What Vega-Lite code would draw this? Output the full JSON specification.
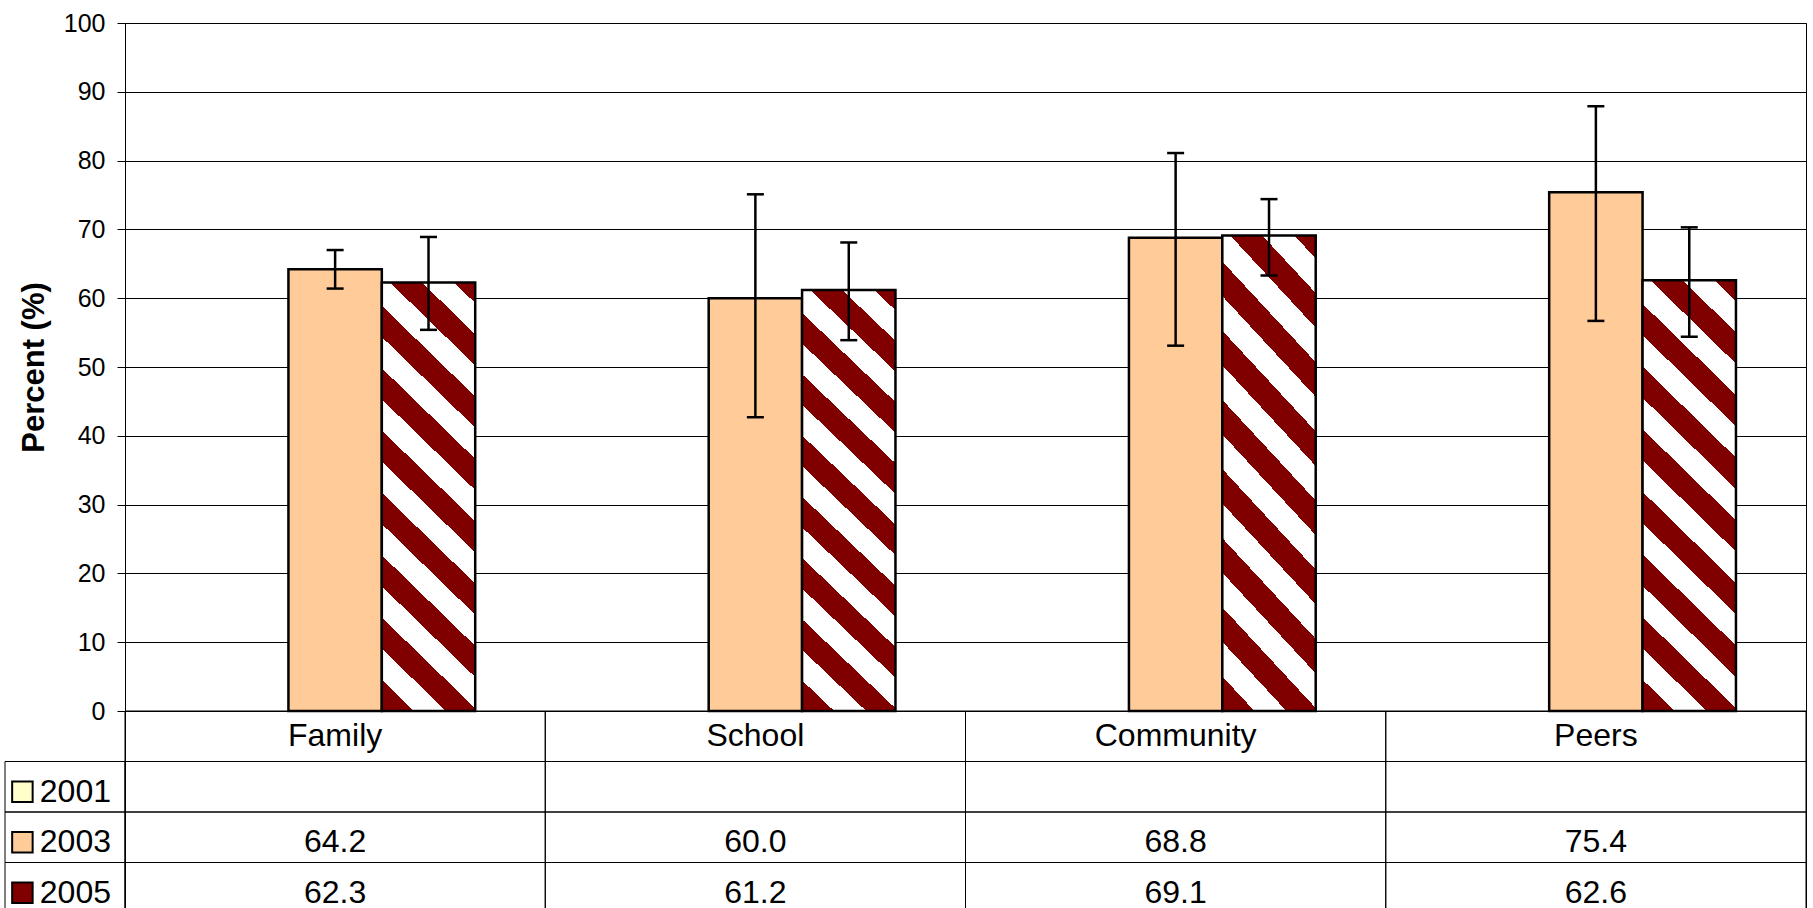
{
  "$schema": "https://vega.github.io/schema/vega-lite/v6.json",
  "width": 1681,
  "height": 890,
  "autosize": {"type": "none"},
  "padding": {"left": 125, "top": 23, "right": 7, "bottom": 0},
  "background": "white",
  "config": {"view": {"stroke": "black", "strokeWidth": 1}, "font": "Liberation Sans"},
  "data": {
    "values": [
      {"category": "Family", "year": "2001", "value": null, "lo": null, "hi": null},
      {"category": "Family", "year": "2003", "value": 64.2, "lo": 61.4, "hi": 67.0},
      {"category": "Family", "year": "2005", "value": 62.3, "lo": 55.4, "hi": 68.9},
      {"category": "School", "year": "2001", "value": null, "lo": null, "hi": null},
      {"category": "School", "year": "2003", "value": 60.0, "lo": 42.7, "hi": 75.1},
      {"category": "School", "year": "2005", "value": 61.2, "lo": 53.9, "hi": 68.1},
      {"category": "Community", "year": "2001", "value": null, "lo": null, "hi": null},
      {"category": "Community", "year": "2003", "value": 68.8, "lo": 53.1, "hi": 81.1},
      {"category": "Community", "year": "2005", "value": 69.1, "lo": 63.3, "hi": 74.4},
      {"category": "Peers", "year": "2001", "value": null, "lo": null, "hi": null},
      {"category": "Peers", "year": "2003", "value": 75.4, "lo": 56.7, "hi": 87.9},
      {"category": "Peers", "year": "2005", "value": 62.6, "lo": 54.4, "hi": 70.3}
    ]
  },
  "layer": [
    {
      "encoding": {
        "x": {"field": "category", "type": "nominal", "sort": null,
              "scale": {"domain": ["Family", "School", "Community", "Peers"], "paddingInner": 0, "paddingOuter": 0},
              "axis": null},
        "xOffset": {"field": "year", "type": "nominal",
                    "scale": {"domain": ["2001", "2003", "2005"], "paddingInner": 0, "paddingOuter": 0.75}}
      },
      "layer": [
        {
          "transform": [{"filter": "datum.year == '2003' && datum.value != null"}],
          "mark": {"type": "bar", "fill": "#FFCC99", "stroke": "black", "strokeWidth": 2.5},
          "encoding": {
            "y": {"field": "value", "type": "quantitative",
                  "scale": {"domain": [0, 100], "range": [688, 0], "nice": false},
                  "axis": {"values": [0, 10, 20, 30, 40, 50, 60, 70, 80, 90, 100],
                           "grid": true, "gridColor": "black", "gridOpacity": 1, "gridWidth": 1,
                           "domainColor": "black", "domainWidth": 1,
                           "tickColor": "black", "tickSize": 8, "tickWidth": 1,
                           "labelFont": "Liberation Sans", "labelFontSize": 25, "labelColor": "black",
                           "labelPadding": 12, "labelFlush": false, "labelOverlap": false,
                           "title": "Percent (%)", "titleFont": "Liberation Sans", "titleFontSize": 31,
                           "titleFontWeight": "bold", "titleColor": "black", "titlePadding": 13}}
          }
        },
        {
          "transform": [{"filter": "datum.year == '2005' && datum.value != null"}],
          "mark": {"type": "bar", "stroke": "black", "strokeWidth": 2.5,
                   "fill": {"gradient": "linear", "x1": 0, "y1": 1, "x2": 0.2457, "y2": -0.16,
                            "stops": [
                              {"offset": 0, "color": "#800000"}, {"offset": 0.06, "color": "#800000"},
                              {"offset": 0.06, "color": "#FFFFFF"}, {"offset": 0.12, "color": "#FFFFFF"},
                              {"offset": 0.12, "color": "#800000"}, {"offset": 0.18, "color": "#800000"},
                              {"offset": 0.18, "color": "#FFFFFF"}, {"offset": 0.24, "color": "#FFFFFF"},
                              {"offset": 0.24, "color": "#800000"}, {"offset": 0.30, "color": "#800000"},
                              {"offset": 0.30, "color": "#FFFFFF"}, {"offset": 0.36, "color": "#FFFFFF"},
                              {"offset": 0.36, "color": "#800000"}, {"offset": 0.42, "color": "#800000"},
                              {"offset": 0.42, "color": "#FFFFFF"}, {"offset": 0.48, "color": "#FFFFFF"},
                              {"offset": 0.48, "color": "#800000"}, {"offset": 0.54, "color": "#800000"},
                              {"offset": 0.54, "color": "#FFFFFF"}, {"offset": 0.60, "color": "#FFFFFF"},
                              {"offset": 0.60, "color": "#800000"}, {"offset": 0.66, "color": "#800000"},
                              {"offset": 0.66, "color": "#FFFFFF"}, {"offset": 0.72, "color": "#FFFFFF"},
                              {"offset": 0.72, "color": "#800000"}, {"offset": 0.78, "color": "#800000"},
                              {"offset": 0.78, "color": "#FFFFFF"}, {"offset": 0.84, "color": "#FFFFFF"},
                              {"offset": 0.84, "color": "#800000"}, {"offset": 0.90, "color": "#800000"},
                              {"offset": 0.90, "color": "#FFFFFF"}, {"offset": 0.96, "color": "#FFFFFF"},
                              {"offset": 0.96, "color": "#800000"}, {"offset": 1, "color": "#800000"}
                            ]}},
          "encoding": {"y": {"field": "value", "type": "quantitative"}}
        },
        {
          "transform": [{"filter": "datum.value != null"}],
          "mark": {"type": "rule", "stroke": "black", "strokeWidth": 2.5},
          "encoding": {"y": {"field": "lo", "type": "quantitative"}, "y2": {"field": "hi"}}
        },
        {
          "transform": [{"filter": "datum.value != null"}],
          "mark": {"type": "tick", "orient": "horizontal", "size": 17, "thickness": 2.5, "color": "black", "opacity": 1},
          "encoding": {"y": {"field": "lo", "type": "quantitative"}}
        },
        {
          "transform": [{"filter": "datum.value != null"}],
          "mark": {"type": "tick", "orient": "horizontal", "size": 17, "thickness": 2.5, "color": "black", "opacity": 1},
          "encoding": {"y": {"field": "hi", "type": "quantitative"}}
        }
      ]
    },
    {
      "encoding": {
        "x": {"field": "category", "type": "nominal", "sort": null,
              "scale": {"domain": ["Family", "School", "Community", "Peers"], "paddingInner": 0, "paddingOuter": 0},
              "axis": null}
      },
      "layer": [
        {
          "mark": {"type": "rect", "fill": "white", "fillOpacity": 0, "stroke": "black", "strokeWidth": 1},
          "encoding": {
            "y": {"field": "year", "type": "nominal",
                  "scale": {"domain": ["cat", "2001", "2003", "2005"], "range": [688, 890], "paddingInner": 0, "paddingOuter": 0},
                  "axis": null}
          }
        },
        {
          "transform": [{"filter": "datum.year == '2003'"}],
          "mark": {"type": "rect", "fill": "white", "fillOpacity": 0, "stroke": "black", "strokeWidth": 1},
          "encoding": {"y": {"datum": "cat", "type": "nominal"}}
        },
        {
          "transform": [{"filter": "datum.year == '2003'"}],
          "mark": {"type": "text", "fontSize": 32, "baseline": "middle", "align": "center", "color": "black", "font": "Liberation Sans"},
          "encoding": {"y": {"datum": "cat", "type": "nominal", "bandPosition": 0.5}, "text": {"field": "category"}}
        },
        {
          "transform": [{"filter": "datum.value != null"}],
          "mark": {"type": "text", "fontSize": 32, "baseline": "middle", "align": "center", "color": "black", "font": "Liberation Sans"},
          "encoding": {
            "y": {"field": "year", "type": "nominal", "bandPosition": 0.6},
            "text": {"field": "value", "type": "quantitative", "format": ".1f"}
          }
        }
      ]
    },
    {
      "transform": [{"filter": "datum.category == 'Family'"}],
      "encoding": {
        "x": {"datum": "legend", "type": "nominal",
              "scale": {"domain": ["legend"], "range": [-120, 0], "paddingInner": 0, "paddingOuter": 0},
              "axis": null},
        "y": {"field": "year", "type": "nominal",
              "scale": {"domain": ["cat", "2001", "2003", "2005"], "range": [688, 890], "paddingInner": 0, "paddingOuter": 0},
              "axis": null}
      },
      "layer": [
        {
          "mark": {"type": "rect", "fill": "white", "fillOpacity": 0, "stroke": "black", "strokeWidth": 1}
        },
        {
          "mark": {"type": "point", "shape": "square", "size": 420, "filled": true, "stroke": "black", "strokeWidth": 2, "opacity": 1},
          "encoding": {
            "x": {"datum": "legend", "type": "nominal", "bandPosition": 0.145},
            "y": {"field": "year", "type": "nominal", "bandPosition": 0.6},
            "fill": {"field": "year", "type": "nominal",
                     "scale": {"domain": ["2001", "2003", "2005"], "range": ["#FFFFCC", "#FFCC99", "#800000"]},
                     "legend": null}
          }
        },
        {
          "mark": {"type": "text", "align": "left", "baseline": "middle", "fontSize": 32, "color": "black", "font": "Liberation Sans"},
          "encoding": {
            "x": {"datum": "legend", "type": "nominal", "bandPosition": 0.29},
            "y": {"field": "year", "type": "nominal", "bandPosition": 0.6},
            "text": {"field": "year"}
          }
        }
      ]
    }
  ],
  "resolve": {"scale": {"x": "independent", "y": "independent"}}
}
